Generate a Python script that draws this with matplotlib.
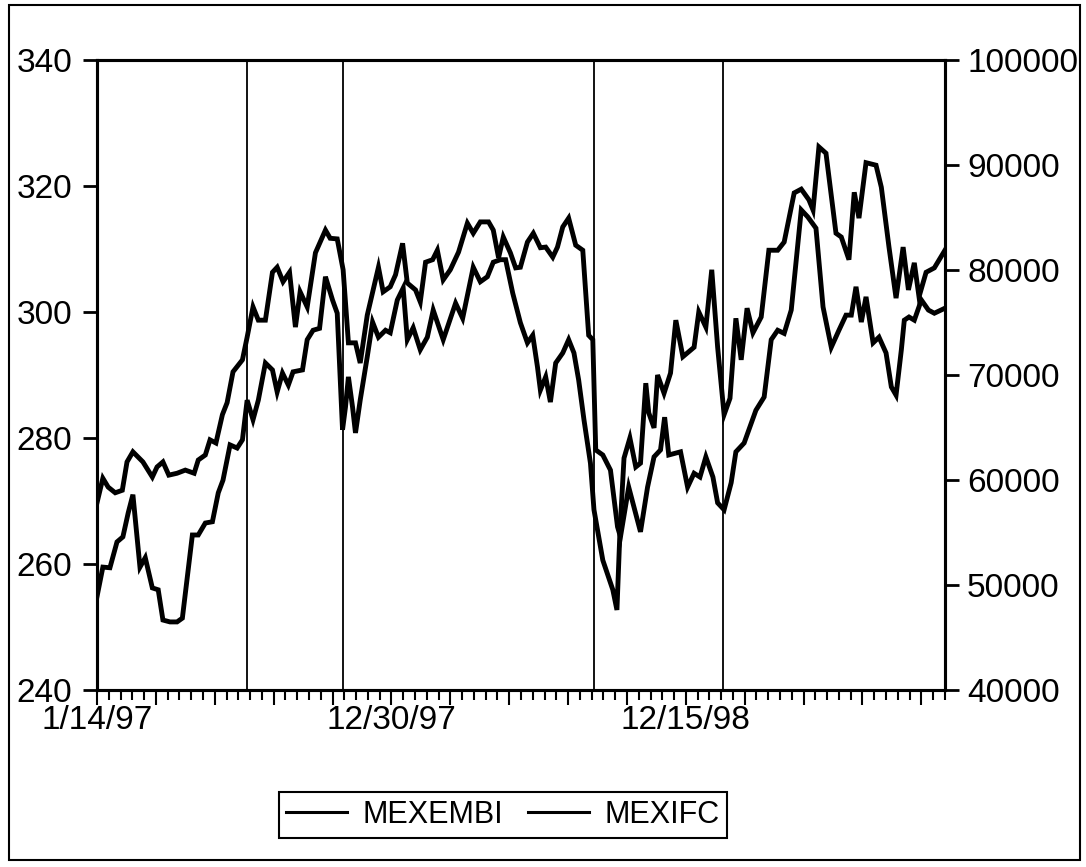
import numpy as np
import matplotlib
matplotlib.use("Agg")
import matplotlib.pyplot as plt
from matplotlib.patches import Rectangle

plt.rcParams['font.family'] = ['Liberation Sans', 'DejaVu Sans']

# weeks since 1/14/97 (weekly data) and values
weeks_embi = [0.0, 1.0, 1.9, 3.1, 4.3, 5.1, 6.1, 7.8, 9.4, 10.2, 11.2, 12.2, 13.6, 15.0, 16.5,
              17.2, 18.4, 19.2, 20.2, 21.3, 22.1, 23.1, 24.7, 25.5, 26.5, 27.4, 28.6, 29.8, 30.6,
              31.6, 32.7, 33.7, 34.5, 35.7, 37.1, 38.8, 39.6, 40.8, 41.8, 42.7, 43.9, 44.7, 45.9,
              47.8, 48.6, 49.8, 50.7, 51.9, 52.7, 54.1, 54.9, 55.8, 57.0, 57.8, 58.8, 60.0, 61.4,
              62.9, 63.9, 65.1, 66.5, 67.3, 68.2, 69.0, 70.2, 71.1, 71.9, 73.1, 74.1, 75.3, 76.2,
              77.4, 78.2, 79.1, 80.1, 81.3, 82.5, 83.5, 84.2, 84.7, 85.9, 87.2, 88.4, 88.9, 90.3,
              92.3, 93.5, 94.6, 95.7, 96.4, 97.1, 99.1, 100.3, 101.4, 102.4, 103.4, 104.6, 105.4,
              106.5, 107.7, 108.5, 109.9, 111.9, 113.3, 114.5, 115.6, 116.7, 117.9, 119.6, 120.7,
              122.1, 123.3, 124.7, 126.0, 127.2, 128.1, 128.9, 129.8, 130.6, 131.8, 132.8, 134.0,
              134.9, 135.7, 136.6, 137.1, 137.9, 138.8, 140.0, 141.2, 142.2, 144.0]
mexembi = [269.7, 273.6, 272.2, 271.3, 271.7, 276.2, 277.8, 276.2, 273.8, 275.4, 276.2, 274.1,
           274.4, 274.9, 274.4, 276.5, 277.3, 279.7, 279.2, 283.7, 285.6, 290.5, 292.4, 296.0,
           300.8, 298.7, 298.7, 306.3, 307.1, 304.8, 306.3, 297.6, 303.2, 300.8, 309.4, 313.0,
           311.7, 311.6, 306.7, 295.1, 295.1, 291.9, 299.5, 307.1, 303.2, 304.0, 305.9, 310.9,
           304.6, 303.5, 301.6, 307.9, 308.3, 309.8, 305.1, 306.7, 309.5, 314.1, 312.5, 314.3,
           314.3, 313.0, 308.6, 311.9, 309.4, 307.0, 307.1, 311.1, 312.5, 310.2, 310.3, 308.7,
           310.3, 313.5, 314.9, 310.6, 309.8, 296.3, 295.6, 278.1, 277.3, 274.9, 265.9, 264.3,
           272.2, 265.1, 272.2, 277.0, 278.1, 283.3, 277.3, 277.8, 272.2, 274.4, 273.8, 277.0,
           273.8, 269.7, 268.6, 272.9, 277.8, 279.2, 284.4, 286.5, 295.6, 297.1, 296.6, 300.3,
           316.2, 315.1, 313.3, 300.8, 294.4, 297.1, 299.5, 299.5, 304.0, 298.4, 302.4, 295.1,
           296.0, 293.5, 288.1, 286.8, 294.0, 298.7, 299.2, 298.7, 301.9, 300.3, 299.8, 300.6]

weeks_ifc = [0.0, 1.0, 2.2, 3.4, 4.4, 5.3, 6.1, 7.3, 8.2, 9.4, 10.4, 11.2, 12.4, 13.6, 14.5,
             16.2, 17.2, 18.4, 19.6, 20.6, 21.4, 22.6, 23.8, 24.7, 25.5, 26.5, 27.4, 28.6, 29.8,
             30.6, 31.5, 32.5, 33.3, 34.9, 35.7, 36.7, 37.8, 38.8, 40.0, 40.8, 41.7, 42.2, 42.7,
             43.4, 43.9, 44.7, 45.9, 46.8, 47.8, 49.0, 49.8, 51.0, 52.0, 52.7, 53.7, 54.9, 56.1,
             57.1, 58.8, 60.9, 62.1, 63.9, 65.1, 66.3, 67.3, 68.5, 69.4, 70.6, 71.9, 73.1, 74.0,
             74.8, 75.3, 76.2, 77.0, 77.9, 79.1, 80.1, 81.0, 81.8, 82.7, 83.8, 84.4, 85.9, 87.6,
             88.3, 88.8, 89.5, 90.5, 91.5, 92.3, 93.2, 93.7, 94.6, 95.2, 96.3, 97.4, 98.3, 99.5,
             101.4, 102.2, 103.4, 104.4, 105.4, 106.5, 107.5, 108.5, 109.4, 110.4, 111.4, 112.8,
             114.1, 115.6, 116.7, 118.4, 119.6, 120.9, 121.6, 122.6, 123.8, 125.5, 126.4, 127.7,
             128.6, 129.4, 130.6, 132.3, 133.2, 134.5, 135.7, 136.9, 137.8, 138.8, 139.6, 140.8,
             142.2, 144.0]
mexifc = [48880, 51700, 51640, 54100, 54580, 56860, 58600, 51700, 52600, 49720, 49540, 46660,
          46480, 46480, 46840, 54760, 54760, 55900, 56020, 58780, 59980, 63340, 63040, 63820,
          67600, 65740, 67600, 71140, 70480, 68380, 70180, 69040, 70300, 70480, 73360, 74260,
          74440, 79360, 77140, 75880, 64780, 66940, 69820, 66940, 64480, 67600, 71740, 75040,
          73600, 74260, 74020, 77140, 78280, 73360, 74500, 72400, 73600, 76180, 73360, 76840,
          75400, 80260, 78880, 79360, 80740, 80980, 80980, 77800, 74980, 73060, 73780, 70780,
          68560, 69820, 67420, 71140, 72100, 73360, 72100, 69520, 65740, 61600, 57160, 52360,
          49540, 47620, 54940, 62080, 64000, 61240, 61600, 69220, 66400, 64960, 70000, 68260,
          70180, 75220, 71740, 72640, 76000, 74560, 80020, 72640, 66220, 67780, 75400, 71440,
          76360, 74020, 75520, 81880, 81880, 82660, 87340, 87700, 86680, 85720, 91720, 91120,
          83500, 83140, 80980, 87400, 84940, 90220, 89980, 87880, 82180, 77320, 82180, 78100,
          80680, 77440, 79780, 80200, 81880]

event_weeks = [25.5, 41.8, 84.4, 106.3]
label_weeks = [0, 50, 100]
date_labels = ["1/14/97", "12/30/97", "12/15/98"]

fig = plt.figure(figsize=(10.86, 8.67), dpi=100)
ax = fig.add_axes([0.0893, 0.2042, 0.7808, 0.7266])
ax2 = ax.twinx()

l1, = ax.plot(weeks_embi, mexembi, color='black', lw=3.5, solid_joinstyle='miter', label='MEXEMBI')
l2, = ax2.plot(weeks_ifc, mexifc, color='black', lw=3.5, solid_joinstyle='miter', label='MEXIFC')

for w in event_weeks:
    ax.axvline(w, color='black', lw=1.3)

ax.set_xlim(0, 144)
ax.set_ylim(240, 340)
ax2.set_ylim(40000, 100000)

ax.set_yticks(np.arange(240, 341, 20))
ax2.set_yticks(np.arange(40000, 100001, 10000))

major = np.arange(0, 145, 10)
ax.set_xticks(major)
ax.set_xticklabels([date_labels[label_weeks.index(m)] if m in label_weeks else "" for m in major])
ax.set_xticks(np.arange(0, 145, 2), minor=True)

for a in (ax, ax2):
    for s in a.spines.values():
        s.set_linewidth(2.2)
ax.tick_params(axis='y', direction='out', length=10, width=2, labelsize=24, pad=8)
ax2.tick_params(axis='y', direction='out', length=10, width=2, labelsize=24, pad=6)
ax.tick_params(axis='x', which='major', direction='out', length=11, width=1.5, labelsize=24, pad=0)
ax.tick_params(axis='x', which='minor', direction='out', length=7, width=1.5)

fig.legend(handles=[l1, l2], loc='center', bbox_to_anchor=(0.463, 0.060), ncol=2,
           fontsize=22, frameon=True, fancybox=False, edgecolor='black', framealpha=1,
           handlelength=2.0, handletextpad=0.5, columnspacing=0.8, borderpad=0.25,
           borderaxespad=0)
leg = fig.legends[0]
leg.get_frame().set_linewidth(1.5)
for h in leg.legend_handles:
    h.set_linewidth(2.2)

fig.add_artist(Rectangle((9 / 1086, 1 - 860 / 867), 1071 / 1086, 855 / 867,
                         transform=fig.transFigure, fill=False, lw=1.5, color='black'))

fig.savefig("out.png", dpi=100)
